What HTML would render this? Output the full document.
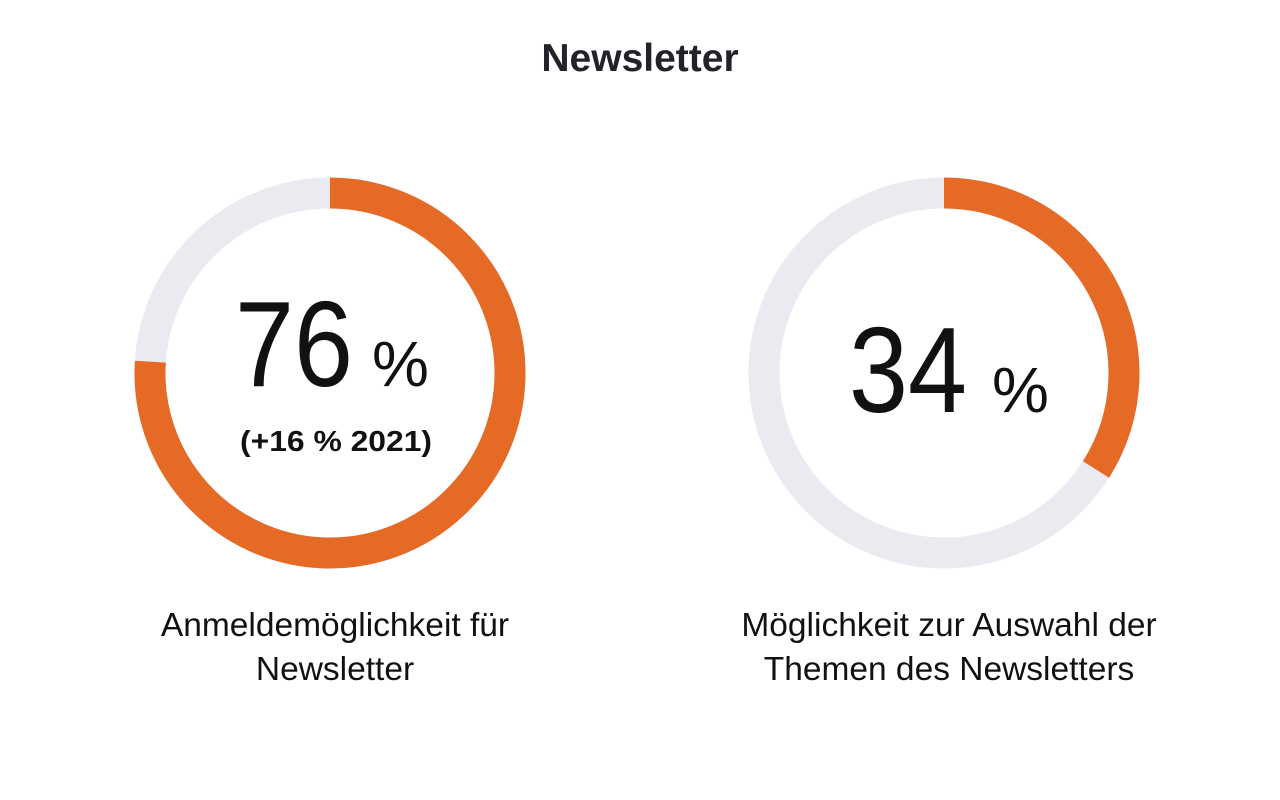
<!DOCTYPE html>
<html><head><meta charset="utf-8"><style>
html,body{margin:0;padding:0;background:#fff;width:1280px;height:800px;overflow:hidden}
svg text{font-family:"Liberation Sans",sans-serif}
</style></head><body>
<svg width="1280" height="800">
<text x="640" y="71" text-anchor="middle" font-size="39" font-weight="bold" fill="#22222a">Newsletter</text>
<g id="donuts"></g>
</svg>
<script>
const categories = ["Anmeldemöglichkeit für|Newsletter", "Möglichkeit zur Auswahl der|Themen des Newsletters"];
const values = [76, 34];
const notes = ["(+16 % 2021)", ""];
const ns = "http://www.w3.org/2000/svg";
const g = document.getElementById("donuts");
const centers = [330, 944], cy = 373, r = 180, sw = 31;
function mk(tag, attrs){const e=document.createElementNS(ns,tag);for(const k in attrs)e.setAttribute(k,attrs[k]);return e;}
values.forEach((v,i)=>{
  const cx = centers[i];
  const bg = mk("circle",{cx:cx,cy:cy,r:r,fill:"none",stroke:"#ebeaf0","stroke-width":sw});
  
  
  g.appendChild(bg);
  const a = v/100*2*Math.PI;
  const x1=cx, y1=cy-r, x2=cx+r*Math.sin(a), y2=cy-r*Math.cos(a);
  const arc = mk("path",{d:`M${x1} ${y1} A${r} ${r} 0 ${v>50?1:0} 1 ${x2} ${y2}`,fill:"none",stroke:"#e56a25","stroke-width":sw});
  
  
  g.appendChild(arc);
  const hasNote = notes[i] !== "";
  const by = hasNote ? 386 : 412;
  const t = mk("text",{x:cx+23,y:by,"text-anchor":"end","font-size":122,fill:"#111",textLength:118,lengthAdjust:"spacingAndGlyphs"});
  t.textContent = String(v);
  
  
  g.appendChild(t);
  const p = mk("text",{x:cx+(hasNote?42:48),y:by,"font-size":64,fill:"#111"});
  p.textContent = "%";
  
  
  g.appendChild(p);
  if(hasNote){
    const n = mk("text",{x:cx+6,y:451,"text-anchor":"middle","font-size":29,"font-weight":"bold",fill:"#111",textLength:192,lengthAdjust:"spacingAndGlyphs"});
    n.textContent = notes[i];
    
    
    g.appendChild(n);
  }
  categories[i].split("|").forEach((line,j)=>{
    const l = mk("text",{x:cx+5,y:636+j*44,"text-anchor":"middle","font-size":33.5,fill:"#111"});
    l.textContent = line;
    
    
    g.appendChild(l);
  });
});
</script>
</body></html>
